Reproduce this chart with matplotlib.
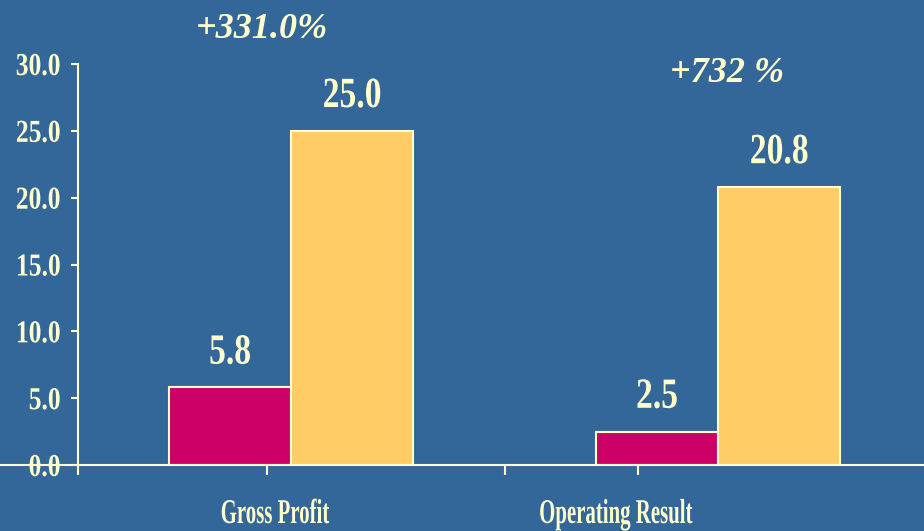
import numpy as np
import matplotlib
matplotlib.use("Agg")
import matplotlib.pyplot as plt
import matplotlib.transforms as mtransforms
from matplotlib.patheffects import AbstractPathEffect

categories = ["Gross Profit", "Operating Result"]
before = [5.8, 2.5]
after = [25.0, 20.8]
growth = ["+331.0%", "+732 %"]
yticks = [0.0, 5.0, 10.0, 15.0, 20.0, 25.0, 30.0]

bg = "#336699"
fg = "#FFFFCC"
serif = ["Liberation Serif", "DejaVu Serif"]


class Condense(AbstractPathEffect):
    # squeeze glyphs horizontally, the original uses a narrow bold serif
    def __init__(self, sx, anchor="center"):
        super().__init__()
        self.sx = sx
        self.anchor = anchor

    def draw_path(self, renderer, gc, tpath, affine, rgbFace=None):
        ext = tpath.get_extents()
        if self.anchor == "right":
            cx = ext.x1
        elif self.anchor == "left":
            cx = ext.x0
        else:
            cx = (ext.x0 + ext.x1) / 2
        t = mtransforms.Affine2D().translate(-cx, 0).scale(self.sx, 1).translate(cx, 0)
        renderer.draw_path(gc, tpath, t + affine, rgbFace)


fig = plt.figure(figsize=(9.24, 5.31), dpi=100, facecolor=bg)
ax = fig.add_axes([0, 66 / 531, 1, 401 / 531])
ax.set_facecolor(bg)

x = np.arange(len(categories))
w = 0.286
ax.bar(x - w / 2, before, w, color="#CC0066", edgecolor=fg, linewidth=1.5, zorder=2)
ax.bar(x + w / 2, after, w, color="#FFCC66", edgecolor=fg, linewidth=1.5, zorder=2)

ax.set_xlim(-0.6815, 1.4824)
ax.set_ylim(0, 30)

for s in ["top", "right"]:
    ax.spines[s].set_visible(False)
ax.spines["left"].set_position(("data", -0.5))
ax.spines["left"].set_color(fg)
ax.spines["bottom"].set_color(fg)
ax.spines["left"].set_linewidth(1.5)
ax.spines["bottom"].set_linewidth(1.5)

ax.set_yticks(yticks)
ax.set_yticklabels([f"{v:.1f}" for v in yticks], fontfamily=serif,
                   fontweight="bold", fontsize=23, color=fg)
ax.tick_params(axis="y", colors=fg, length=5, width=1.5, pad=7, labelcolor=fg)
for lab in ax.get_yticklabels():
    lab.set_path_effects([Condense(0.8, "right")])

ax.set_xticks([-0.5, -0.056, 0.5, 0.813])
ax.set_xticklabels([])
ax.tick_params(axis="x", colors=fg, length=7, width=1.5, direction="out")

# value labels
for i in range(len(categories)):
    for xx, v in [(x[i] - w / 2, before[i]), (x[i] + w / 2, after[i])]:
        ax.text(xx, v + 1.78, f"{v:.1f}", ha="center", va="baseline",
                fontfamily=serif, fontweight="bold", fontsize=31, color=fg,
                path_effects=[Condense(0.78)])

# growth labels
gpos = [(-0.068, 32.6), (1.021, 29.3)]
for (gx, gy), g in zip(gpos, growth):
    ax.text(gx, gy, g, ha="center", va="center", fontfamily=serif, fontweight="bold",
            fontstyle="italic", fontsize=26, color=fg, clip_on=False)

# category labels
trans = mtransforms.blended_transform_factory(ax.transData, ax.transAxes)
for cx, c in zip([-0.038, 0.76], categories):
    ax.text(cx, -0.1446, c, transform=trans, ha="center", va="baseline", fontfamily=serif,
            fontweight="bold", fontsize=25, color=fg, clip_on=False,
            path_effects=[Condense(0.6)])

fig.savefig("out.png", dpi=100, facecolor=bg)
